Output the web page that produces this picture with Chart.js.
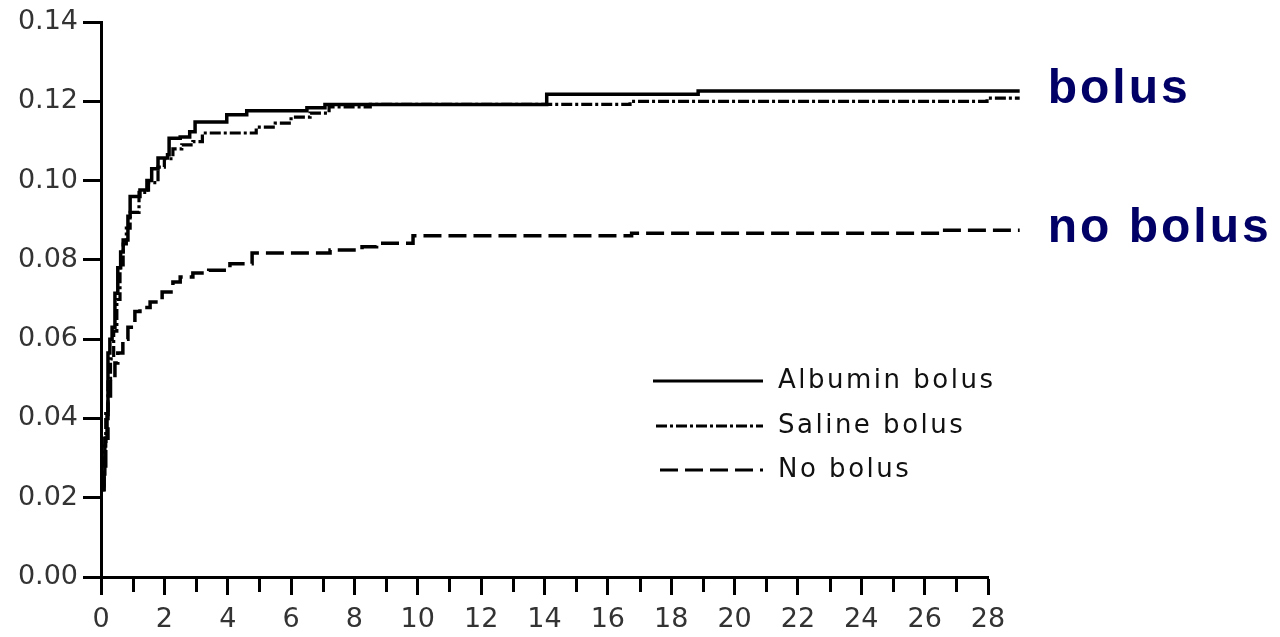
<!DOCTYPE html>
<html>
<head>
<meta charset="utf-8">
<script src="https://cdn.jsdelivr.net/npm/chart.js"></script>
<style>
	body { margin: 0; background: #fff; }
	#wrap { width: 1280px; height: 637px; }
</style>
</head>
<body>
<div id="wrap"><canvas id="myChart"></canvas></div>
<script>
// days since randomisation
const albuminT = [0.03, 0.06, 0.12, 0.19, 0.22, 0.28, 0.35, 0.44, 0.53, 0.62, 0.7, 0.85, 0.92, 1.23, 1.45, 1.6, 1.8, 2.1, 2.15, 2.5, 2.8, 2.97, 3.97, 4.6, 6.5, 7.07, 14.07, 18.85, 29]
const albuminV = [0.022, 0.026, 0.035, 0.041, 0.0565, 0.06, 0.063, 0.0716, 0.078, 0.082, 0.085, 0.091, 0.096, 0.0976, 0.1, 0.103, 0.1057, 0.1065, 0.1107, 0.111, 0.1123, 0.1148, 0.1166, 0.1176, 0.1184, 0.1192, 0.1218, 0.1226, 0.1226]

const salineT = [0.05, 0.1, 0.15, 0.22, 0.3, 0.4, 0.5, 0.6, 0.7, 0.8, 0.92, 1.2, 1.5, 1.8, 2.0, 2.27, 2.55, 2.9, 3.2, 4.9, 5.5, 6.0, 6.6, 7.2, 8.5, 16.7, 27.97, 29]
const salineV = [0.023, 0.033, 0.042, 0.05, 0.055, 0.062, 0.07, 0.078, 0.084, 0.088, 0.092, 0.097, 0.0995, 0.1034, 0.1055, 0.108, 0.109, 0.1098, 0.112, 0.1135, 0.1145, 0.116, 0.117, 0.1186, 0.1192, 0.12, 0.1208, 0.1208]

const noBolusT = [0.05, 0.1, 0.15, 0.22, 0.3, 0.44, 0.53, 0.69, 0.85, 1.07, 1.23, 1.55, 1.93, 2.27, 2.5, 2.9, 3.4, 4.07, 4.77, 7.23, 8.24, 8.7, 9.85, 16.75, 26.5, 29]
const noBolusV = [0.022, 0.028, 0.035, 0.045, 0.05, 0.054, 0.0565, 0.06, 0.063, 0.067, 0.068, 0.0694, 0.0719, 0.0744, 0.0757, 0.0767, 0.0774, 0.079, 0.0817, 0.0825, 0.0833, 0.0842, 0.0861, 0.0867, 0.0875, 0.0875]

const seriesLabels = ['Albumin bolus', 'Saline bolus', 'No bolus']
const endLabels = ['bolus', '', 'no bolus']

const toPoints = (t, v) => t.map((x, i) => ({ x: x, y: v[i] }))

// odd-day ticks are shorter than the labelled ones
const minorTicks = {
	id: 'minorTicks',
	afterDraw(chart) {
		const { ctx } = chart
		const xs = chart.scales.x
		ctx.save()
		ctx.strokeStyle = '#000'
		ctx.lineWidth = 3
		for (let d = 1; d < 28; d += 2) {
			const px = Math.round(xs.getPixelForValue(d)) + 0.5
			ctx.beginPath()
			ctx.moveTo(px, xs.top)
			ctx.lineTo(px, xs.top + 15)
			ctx.stroke()
		}
		ctx.restore()
	},
}

const lineLegend = {
	id: 'lineLegend',
	afterDatasetsDraw(chart) {
		const { ctx } = chart
		const rows = [381, 426, 470]
		const starts = [653, 656, 660]
		chart.data.datasets.forEach((ds, i) => {
			const y = rows[i]
			ctx.save()
			ctx.strokeStyle = '#000'
			ctx.lineWidth = 3
			ctx.setLineDash(ds.borderDash || [])
			ctx.beginPath()
			ctx.moveTo(starts[i], y)
			ctx.lineTo(763, y)
			ctx.stroke()
			ctx.setLineDash([])
			ctx.font = '26px "DejaVu Sans"'
			ctx.letterSpacing = '2.5px'
			ctx.fillStyle = '#111'
			ctx.textBaseline = 'middle'
			ctx.fillText(ds.label, 778, y)
			ctx.restore()
		})
	},
}

const endText = {
	id: 'endText',
	afterDatasetsDraw(chart) {
		const { ctx } = chart
		chart.data.datasets.forEach((ds, i) => {
			if (!endLabels[i]) return
			const last = ds.data[ds.data.length - 1]
			const x = chart.scales.x.getPixelForValue(last.x) + 28
			const y = chart.scales.y.getPixelForValue(last.y)
			ctx.save()
			ctx.font = 'bold 48px "Liberation Sans"'
			ctx.letterSpacing = '3px'
			ctx.fillStyle = '#000066'
			ctx.textBaseline = 'alphabetic'
			ctx.fillText(endLabels[i], x, y + 12)
			ctx.restore()
		})
	},
}

const ctx = document.getElementById('myChart').getContext('2d')
const myChart = new Chart(ctx, {
	type: 'line',
	data: {
		datasets: [
			{
				label: seriesLabels[0],
				data: toPoints(albuminT, albuminV),
				borderColor: '#000',
				borderWidth: 3.5,
			},
			{
				label: seriesLabels[1],
				data: toPoints(salineT, salineV),
				borderColor: '#000',
				borderWidth: 3.2,
				borderDash: [11, 3, 3, 3],
			},
			{
				label: seriesLabels[2],
				data: toPoints(noBolusT, noBolusV),
				borderColor: '#000',
				borderWidth: 3.5,
				borderDash: [18, 7],
			},
		],
	},
	options: {
		responsive: true,
		maintainAspectRatio: false,
		animation: false,
		layout: {
			padding: { top: 22, right: 292, left: 0, bottom: 0 },
		},
		elements: {
			point: { radius: 0 },
			line: { stepped: true, tension: 0 },
		},
		datasets: {
			line: { clip: false },
		},
		plugins: {
			legend: { display: false },
			tooltip: { enabled: false },
		},
		scales: {
			x: {
				type: 'linear',
				min: 0,
				max: 28,
				afterFit: (scale) => { scale.height = 60 },
				ticks: {
					stepSize: 1,
					autoSkip: false,
					maxRotation: 0,
					padding: 9,
					color: '#333',
					font: { family: 'DejaVu Sans', size: 27 },
					callback: (v) => (v % 2 === 0 ? String(v) : ''),
				},
				grid: {
					drawOnChartArea: false,
					tickLength: 18,
					tickWidth: 3,
					tickColor: (c) => (c.tick && c.tick.value % 2 === 0 ? '#000' : 'rgba(0,0,0,0)'),
				},
				border: { color: '#000', width: 3 },
			},
			y: {
				min: 0,
				max: 0.14,
				afterFit: (scale) => { scale.width = 101 },
				ticks: {
					stepSize: 0.02,
					padding: 5,
					color: '#333',
					font: { family: 'DejaVu Sans', size: 27 },
					callback: (v) => v.toFixed(2),
				},
				grid: {
					drawOnChartArea: false,
					tickLength: 18,
					tickWidth: 3,
					tickColor: '#000',
				},
				border: { color: '#000', width: 3 },
			},
		},
	},
	plugins: [minorTicks, lineLegend, endText],
})
</script>
</body>
</html>
